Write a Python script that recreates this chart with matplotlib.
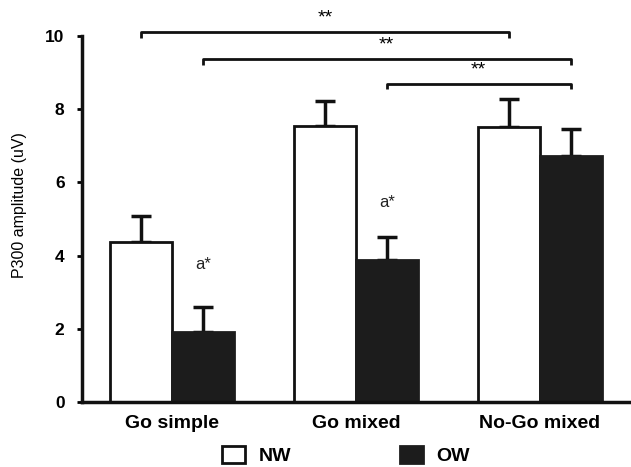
import numpy as np
import matplotlib
matplotlib.use("Agg")
import matplotlib.pyplot as plt
from matplotlib.patches import Patch

# =========================
# DATA
# =========================
conditions = ["Go simple", "Go mixed", "No-Go mixed"]
nw_mean = [4.38, 7.53, 7.51]
nw_err = [0.69, 0.70, 0.77]
ow_mean = [1.92, 3.87, 6.73]
ow_err = [0.67, 0.65, 0.74]

# significance brackets: (group_a, series_a, group_b, series_b, height, label)
brackets = [
    (0, "NW", 2, "NW", 10.1, "**"),
    (0, "OW", 2, "OW", 9.36, "**"),
    (1, "OW", 2, "OW", 8.7, "**"),
]
a_marks = [(0, 3.75), (1, 5.45)]  # "a*" above OW bars

plt.rcParams["font.family"] = ["Liberation Sans", "DejaVu Sans"]

fig = plt.figure(figsize=(6.31, 4.67), dpi=100)
ax = fig.add_axes([0.130, 0.139, 0.870, 0.784])

x = np.arange(len(conditions))
w = 0.335
off = {"NW": -w / 2, "OW": w / 2}

ax.bar(x + off["NW"], nw_mean, w, color="white", edgecolor="#111111",
       linewidth=2, zorder=2)
ax.bar(x + off["OW"], ow_mean, w, color="#1c1c1c", edgecolor="#1c1c1c",
       linewidth=2, zorder=2)
ax.errorbar(x + off["NW"], nw_mean, yerr=[np.zeros(3), nw_err], fmt="none",
            ecolor="#111111", elinewidth=2.5, capsize=7, capthick=2.5, zorder=1)
ax.errorbar(x + off["OW"], ow_mean, yerr=[np.zeros(3), ow_err], fmt="none",
            ecolor="#111111", elinewidth=2.5, capsize=7, capthick=2.5, zorder=1)

# brackets
for ga, sa, gb, sb, h, lab in brackets:
    xa = ga + off[sa]
    xb = gb + off[sb]
    ax.plot([xa, xa, xb, xb], [h - 0.15, h, h, h - 0.15], color="#111111",
            lw=2, clip_on=False, solid_capstyle="butt")
    ax.text((xa + xb) / 2, h + 0.15, lab, ha="center", va="bottom",
            fontsize=14, clip_on=False)

for g, h in a_marks:
    ax.text(g + off["OW"], h, "a*", ha="center", va="center", fontsize=12,
            color="#222222")

ax.set_xlim(-0.489, 2.495)
ax.set_ylim(0, 10)
ax.set_yticks([0, 2, 4, 6, 8, 10])
ax.set_xticks(x)
ax.set_xticklabels(conditions, fontsize=14, fontweight="bold")
ax.tick_params(axis="x", length=0, pad=9)
ax.tick_params(axis="y", length=3.6, width=2, labelsize=12.5, pad=9)
for lbl in ax.get_yticklabels():
    lbl.set_fontweight("bold")
ax.set_ylabel("P300 amplitude (uV)", fontsize=11.5, fontweight="medium")
ax.yaxis.set_label_coords(-0.100, 0.538)

for s in ["top", "right"]:
    ax.spines[s].set_visible(False)
for s in ["left", "bottom"]:
    ax.spines[s].set_linewidth(2.5)
    ax.spines[s].set_color("#111111")

handles = [Patch(facecolor="white", edgecolor="#111111", linewidth=2),
           Patch(facecolor="#1c1c1c", edgecolor="#1c1c1c", linewidth=2)]
fig.legend(handles, ["NW", "OW"], loc="center", bbox_to_anchor=(0.548, 0.025),
           ncol=2, frameon=False, handlelength=1.2, handleheight=0.95,
           handletextpad=0.67, columnspacing=5.6,
           prop={"weight": "bold", "size": 14})

fig.savefig("out.png", dpi=100)
